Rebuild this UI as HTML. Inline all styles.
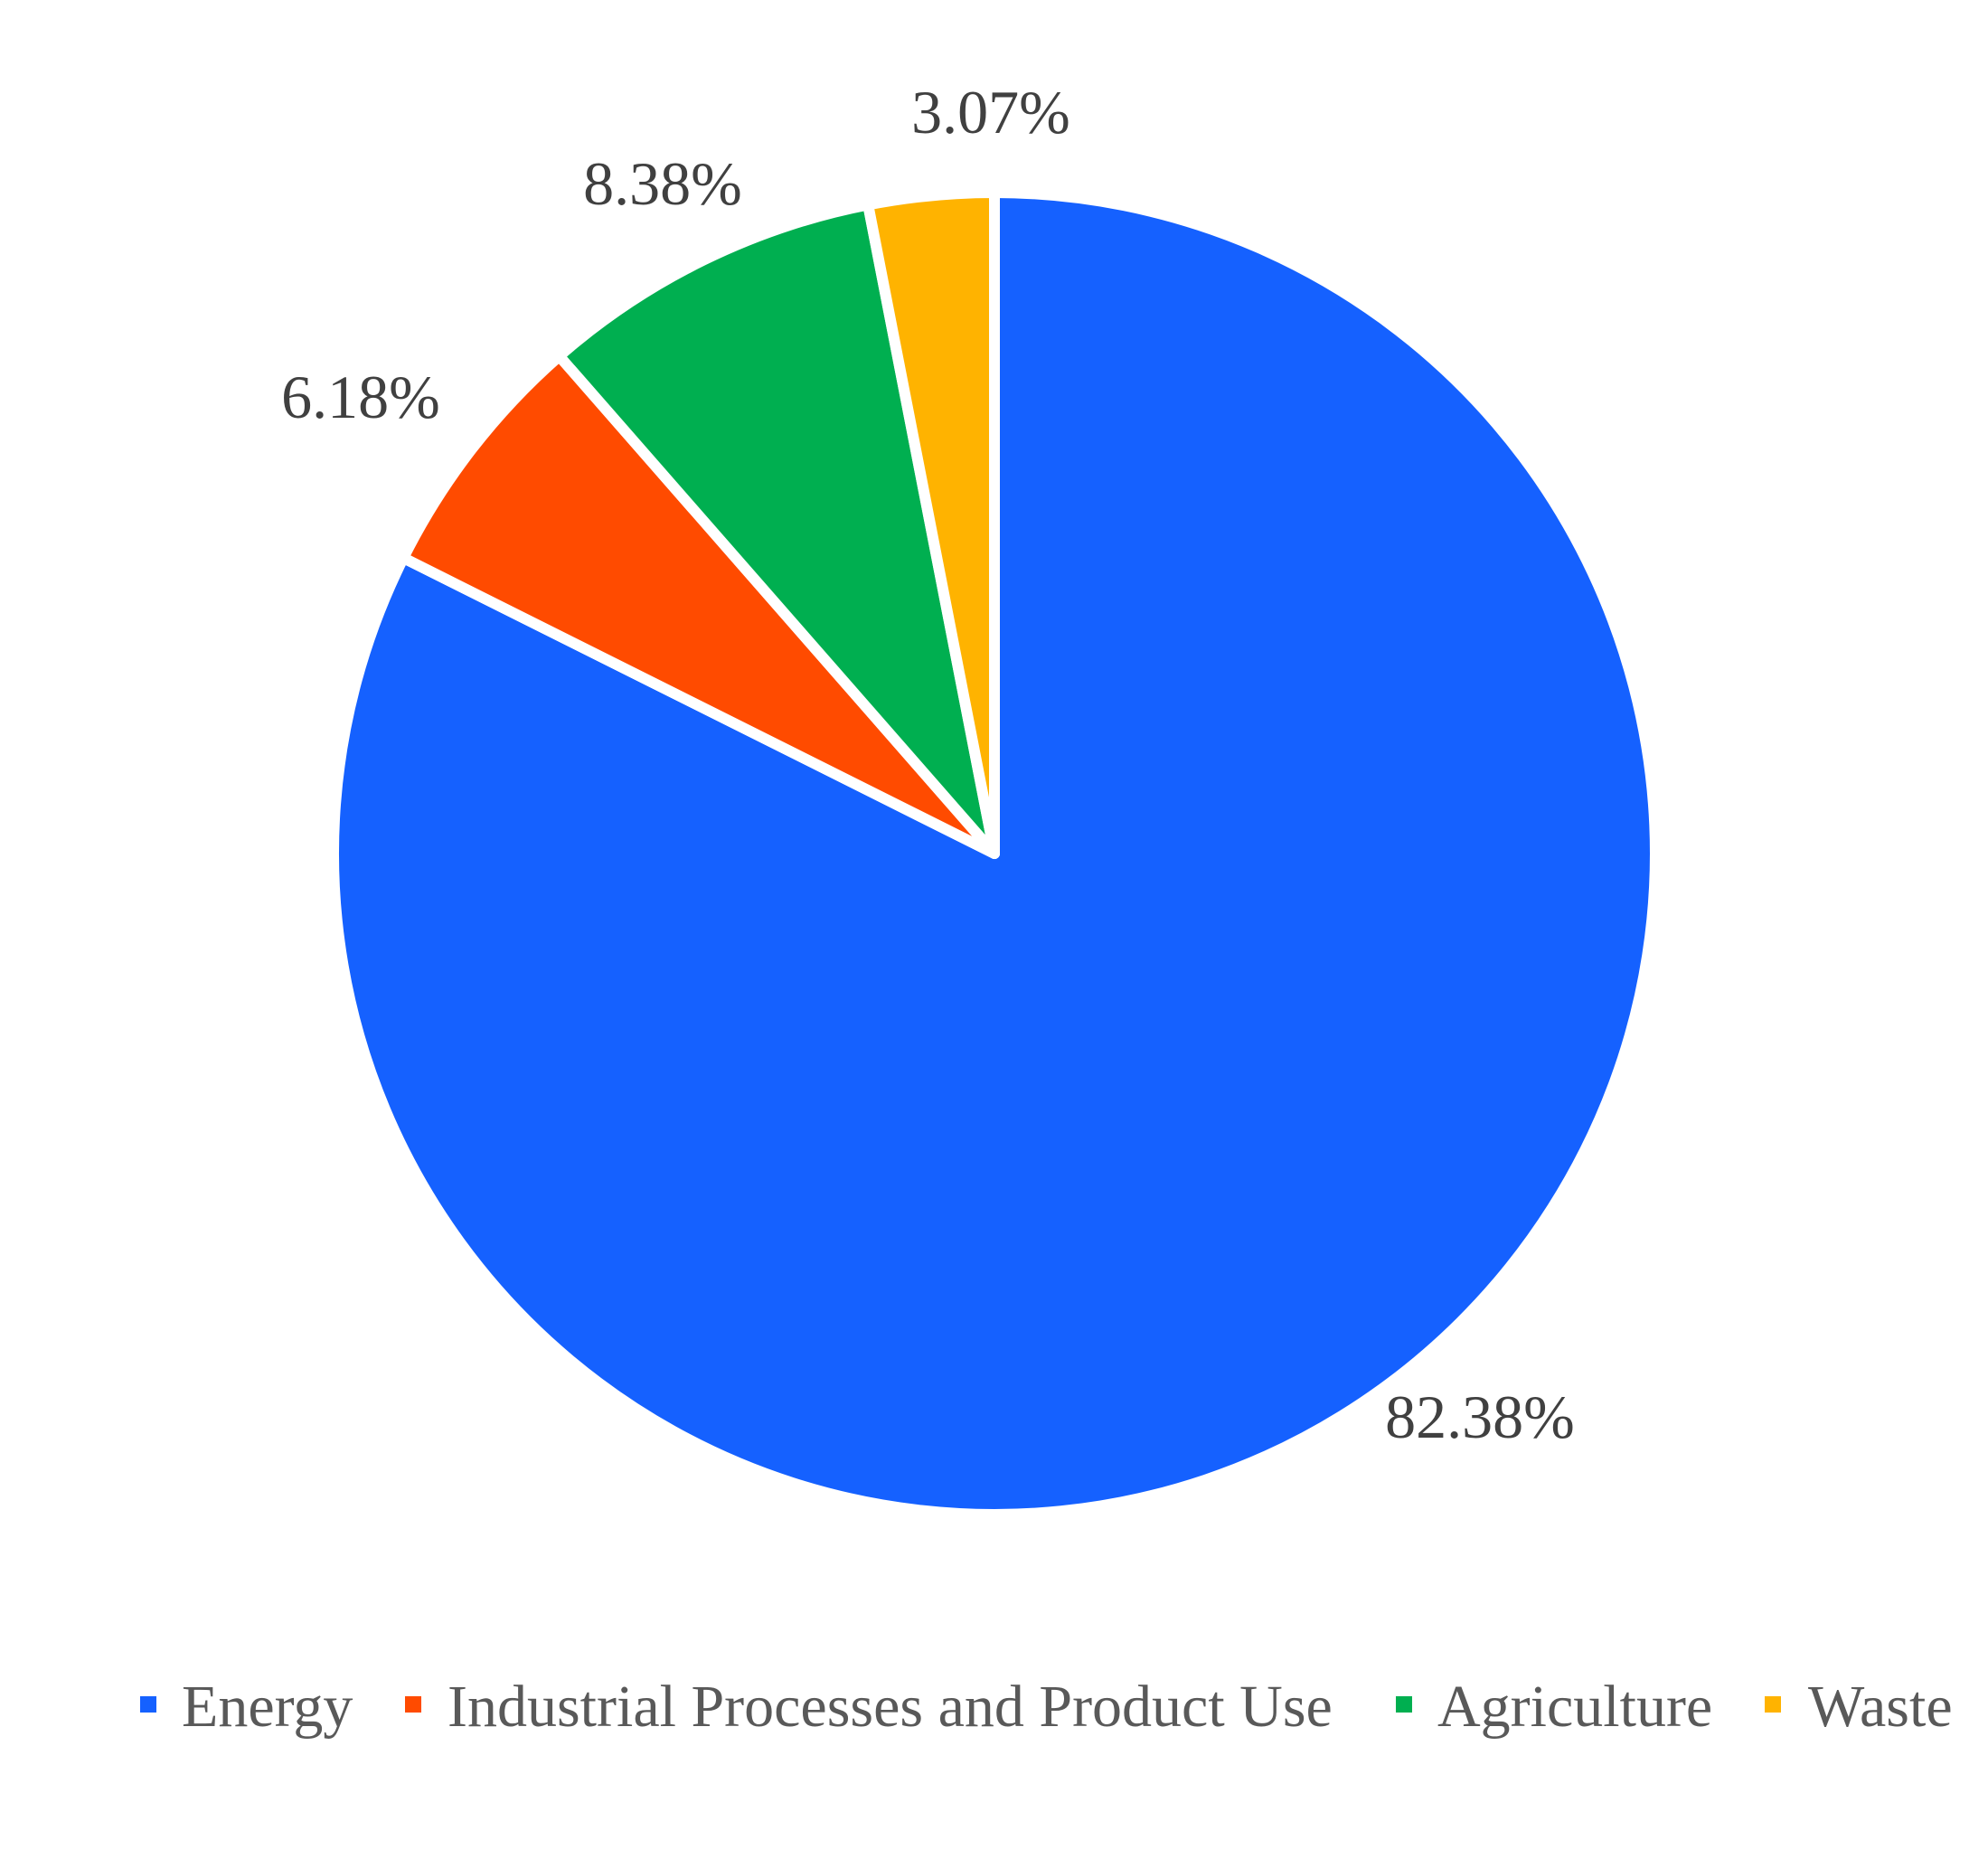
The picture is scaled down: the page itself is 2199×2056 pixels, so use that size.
<!DOCTYPE html>
<html><head><meta charset="utf-8"><style>
html,body{margin:0;padding:0;background:#fff;}
svg{display:block;}
text{font-family:"Liberation Serif",serif;}
</style></head><body>
<svg width="2199" height="2056" viewBox="0 0 2199 2056" xmlns="http://www.w3.org/2000/svg">
<rect width="2199" height="2056" fill="#fff"/>
<g stroke="#fff" stroke-width="12" stroke-linejoin="round">
<path d="M1100,944 L1100,213 A731,731 0 1 1 446.2,617 Z" fill="#1561FF"/>
<path d="M1100,944 L446.2,617 A731,731 0 0 1 618.6,393.8 Z" fill="#FF4B00"/>
<path d="M1100,944 L618.6,393.8 A731,731 0 0 1 960.2,226.5 Z" fill="#00AF50"/>
<path d="M1100,944 L960.2,226.5 A731,731 0 0 1 1100,213 Z" fill="#FFB300"/>
</g>
<g fill="#404040" font-size="68" text-anchor="middle">
<text x="1096" y="147">3.07%</text>
<text x="733" y="226">8.38%</text>
<text x="399" y="462">6.18%</text>
<text x="1637" y="1590">82.38%</text>
</g>
<g fill="#595959" font-size="66">
<rect x="155" y="1876" width="18" height="18" fill="#1561FF"/>
<text x="201" y="1909">Energy</text>
<rect x="448" y="1876" width="18" height="18" fill="#FF4B00"/>
<text x="495" y="1909">Industrial Processes and Product Use</text>
<rect x="1544" y="1876" width="18" height="18" fill="#00AF50"/>
<text x="1590" y="1909">Agriculture</text>
<rect x="1952" y="1876" width="18" height="18" fill="#FFB300"/>
<text x="2000" y="1909">Waste</text>
</g>
</svg>
</body></html>
